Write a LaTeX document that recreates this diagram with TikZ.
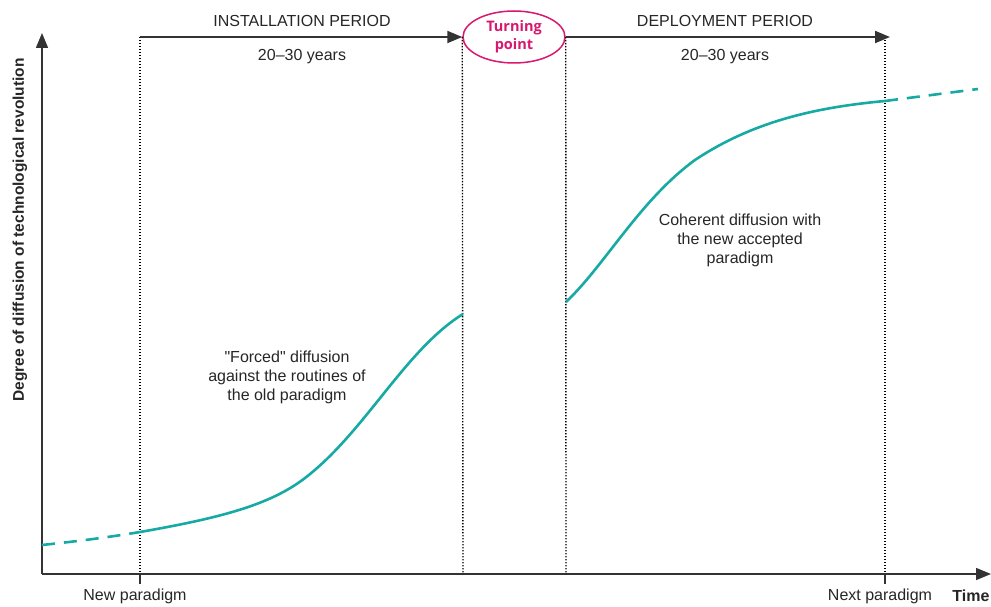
\documentclass[tikz,border=0pt]{standalone}
\usepackage{fontspec}
\setmainfont{Liberation Sans}[Ligatures=TeXOff]
\newfontfamily\opensans{Open Sans}
\usetikzlibrary{arrows.meta,shapes.geometric}
\definecolor{axisgray}{HTML}{333333}
\definecolor{curveteal}{HTML}{17A9A3}
\definecolor{turnmag}{HTML}{D8176E}
\begin{document}
\begin{tikzpicture}[x=1pt,y=-1pt,
  axisline/.style={draw=axisgray,line width=1.5pt},
  bigarrow/.style={-{Triangle[width=12pt,length=15pt]}},
  guide/.style={draw=black,line width=1.4pt,dash pattern=on 1.4pt off 1.6pt},
  curve/.style={draw=curveteal,line width=2.6pt},
  curvedash/.style={curve,dash pattern=on 13pt off 9pt},
  label/.style={font=\fontsize{16}{19}\selectfont,text=black!85,inner sep=0pt},
  note/.style={label,align=center,font=\fontsize{16}{19}\selectfont}]
\useasboundingbox (0,0) rectangle (991,607);

% axes
\coordinate (origin) at (42,574);
\coordinate (ytop) at (42,33);
\coordinate (xend) at (991,574);
\draw[axisline,bigarrow] (origin) -- (ytop);
\draw[axisline,bigarrow] (origin) -- (xend);

% period boundaries
\coordinate (newtop) at (140,37);
\coordinate (newbot) at (140,574);
\coordinate (newtick) at (140,584);
\coordinate (nexttop) at (885,37);
\coordinate (nextbot) at (885,574);
\coordinate (nexttick) at (885,584);
\coordinate (turnLbot) at (463,574);
\coordinate (turnRbot) at (566,574);

% turning point
\node[ellipse,draw=turnmag,line width=1.5pt,minimum width=102pt,minimum height=52pt,
      inner sep=0pt,align=center,text=turnmag,
      font=\opensans\bfseries\fontsize{14.5}{18}\selectfont] (turn) at (514,37) {Turning\\point};

\draw[guide] (newtop) -- (newbot);
\draw[guide] (nexttop) -- (nextbot);
\draw[guide] (turn.west) -- (turnLbot);
\draw[guide] (turn.east) -- (turnRbot);
\draw[axisline,line width=1.2pt] (newbot) -- (newtick);
\draw[axisline,line width=1.2pt] (nextbot) -- (nexttick);

% period arrows
\draw[axisline,line width=2pt,bigarrow] (newtop) -- (turn.west);
\draw[axisline,line width=2pt,bigarrow] (turn.east) -- (890,37);

\node[label] (inst) at (302,21) {INSTALLATION PERIOD};
\node[label] (instyrs) at (302,57) {20–30 years};
\node[label] (depl) at (725,21) {DEPLOYMENT PERIOD};
\node[label] (deplyrs) at (725,57) {20–30 years};

% diffusion curves
\coordinate (c0) at (42,545);
\coordinate (c1) at (140,532);
\coordinate (c2) at (463,314);
\coordinate (d1) at (566,302);
\coordinate (d2) at (885,101);
\coordinate (d3) at (978,89);
\draw[curvedash] (c0) .. controls (80,541) and (110,537) .. (c1);
\draw[curve] (c1) .. controls (220,518) and (270,505) .. (305,478)
  .. controls (365,432) and (405,350) .. (c2);
\draw[curve] (d1) .. controls (605,265) and (640,200) .. (695,160)
  .. controls (755,120) and (820,107) .. (d2);
\draw[curvedash] (d2) -- (d3);

% annotations
\node[note] (forced) at (287,377) {"Forced" diffusion\\against the routines of\\the old paradigm};
\node[note] (coherent) at (740,240) {Coherent diffusion with\\the new accepted\\paradigm};

\node[label,rotate=90,font=\bfseries\fontsize{15.5}{18}\selectfont] (ylab) at (20,230)
  {Degree of diffusion of technological revolution};
\node[label] (newp) at (135,596) {New paradigm};
\node[label] (nextp) at (880,596) {Next paradigm};
\node[label,font=\bfseries\fontsize{16}{19}\selectfont] (time) at (971,596) {Time};
\end{tikzpicture}
\end{document}
